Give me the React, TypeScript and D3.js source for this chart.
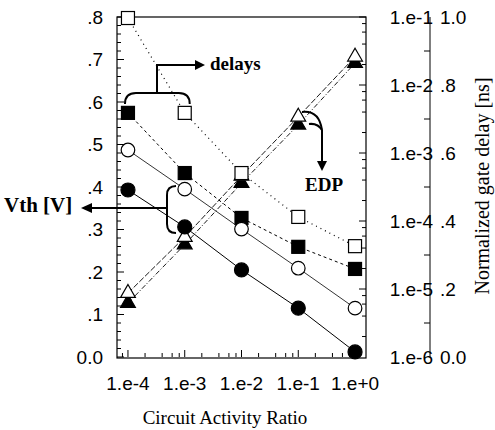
import React, { useEffect, useRef } from 'react';
import * as d3 from 'd3';

// circuit activity ratio (x, log)
const activity = [1e-4, 1e-3, 1e-2, 1e-1, 1];
const activityLabels = ['1.e-4', '1.e-3', '1.e-2', '1.e-1', '1.e+0'];

// Vth [V] -> left axis
const vthOpen = [0.487, 0.395, 0.301, 0.209, 0.115];
const vthFilled = [0.393, 0.306, 0.205, 0.115, 0.012];

// normalized gate delay [ns] -> right linear axis
const delayOpen = [0.997, 0.718, 0.541, 0.412, 0.326];
const delayFilled = [0.718, 0.541, 0.409, 0.324, 0.259];

// EDP -> right log axis
const edpOpen = [8.7e-6, 5.8e-5, 4.6e-4, 3.4e-3, 2.6e-2];
const edpFilled = [6.2e-6, 4.5e-5, 3.6e-4, 2.6e-3, 2.1e-2];

const vthTicks = [0, 0.1, 0.2, 0.3, 0.4, 0.5, 0.6, 0.7, 0.8];
const vthLabels = ['0.0', '.1', '.2', '.3', '.4', '.5', '.6', '.7', '.8'];
const delayTicks = [0, 0.2, 0.4, 0.6, 0.8, 1.0];
const delayLabels = ['0.0', '.2', '.4', '.6', '.8', '1.0'];
const edpTicks = [1e-6, 1e-5, 1e-4, 1e-3, 1e-2, 1e-1];
const edpLabels = ['1.e-6', '1.e-5', '1.e-4', '1.e-3', '1.e-2', '1.e-1'];

const SANS = 'Liberation Sans, Arial, sans-serif';
const SERIF = 'Liberation Serif, Times New Roman, serif';

function draw(el: SVGSVGElement) {
  const svg = d3.select(el);
  svg.selectAll('*').remove();

  const left = 117, right = 366, top = 17, bottom = 357;

  const x = d3.scaleLog().domain([6.41e-5, 1.56]).range([left, right]);
  const yV = d3.scaleLinear().domain([0, 0.8]).range([bottom, top]);
  const yD = d3.scaleLinear().domain([0, 1]).range([bottom, top]);
  const yE = d3.scaleLog().domain([1e-6, 1e-1]).range([bottom, top]);

  // frame
  svg.append('rect')
    .attr('x', left).attr('y', top)
    .attr('width', right - left).attr('height', bottom + 1 - top)
    .attr('fill', 'none').attr('stroke', '#000').attr('stroke-width', 1.2);

  const ticks = svg.append('g').attr('stroke', '#000').attr('stroke-width', 1);

  // left ticks, every .02
  d3.range(0, 41).map(i => i * 0.02).forEach((v, i) => {
    const len = i % 5 === 0 ? 7 : 4;
    ticks.append('line')
      .attr('x1', left).attr('x2', left + len)
      .attr('y1', yV(v)).attr('y2', yV(v));
  });

  // log minor ticks 2,4,6,8 + decades
  const logTicks = (lo: number, hi: number) => {
    const out: { v: number; major: boolean }[] = [];
    for (let e = -7; e <= 1; e++) {
      [2, 4, 6, 8, 10].forEach(m => {
        const v = m * Math.pow(10, e);
        if (v >= lo && v <= hi) out.push({ v, major: m === 10 });
      });
    }
    return out;
  };

  logTicks(x.domain()[0], x.domain()[1]).forEach(t => {
    ticks.append('line')
      .attr('x1', x(t.v)).attr('x2', x(t.v))
      .attr('y1', bottom).attr('y2', bottom - (t.major ? 7 : 4));
  });

  logTicks(1.01e-6, 1e-1).forEach(t => {
    ticks.append('line')
      .attr('x1', right).attr('x2', right - (t.major ? 7 : 4))
      .attr('y1', yE(t.v)).attr('y2', yE(t.v));
  });

  // separate right axis
  const axX = 430;
  ticks.append('line')
    .attr('x1', axX).attr('x2', axX)
    .attr('y1', top).attr('y2', bottom);
  [0.1, 0.3, 0.5, 0.7, 0.9].forEach(v => {
    ticks.append('line')
      .attr('x1', axX).attr('x2', axX - 6)
      .attr('y1', yD(v)).attr('y2', yD(v));
  });

  // tick labels
  const lab = svg.append('g').attr('font-family', SANS).attr('font-size', 19).attr('fill', '#000');

  lab.selectAll('text.yl')
    .data(vthTicks)
    .join('text')
      .attr('class', 'yl')
      .attr('x', left - 14).attr('y', d => yV(d))
      .attr('dy', '0.35em').attr('text-anchor', 'end')
      .text((d, i) => vthLabels[i]);

  lab.selectAll('text.xl')
    .data(activity)
    .join('text')
      .attr('class', 'xl')
      .attr('x', d => x(d)).attr('y', 383)
      .attr('dy', '0.35em').attr('text-anchor', 'middle')
      .text((d, i) => activityLabels[i]);

  lab.selectAll('text.el')
    .data(edpTicks)
    .join('text')
      .attr('class', 'el')
      .attr('x', axX + 3).attr('y', d => yE(d))
      .attr('dy', '0.35em').attr('text-anchor', 'end')
      .text((d, i) => edpLabels[i]);

  lab.selectAll('text.dl')
    .data(delayTicks)
    .join('text')
      .attr('class', 'dl')
      .attr('x', axX + 10).attr('y', d => yD(d))
      .attr('dy', '0.35em').attr('text-anchor', 'start')
      .text((d, i) => delayLabels[i]);

  // titles
  svg.append('text')
    .attr('x', 225).attr('y', 424)
    .attr('text-anchor', 'middle')
    .attr('font-family', SERIF).attr('font-size', 19)
    .text('Circuit Activity Ratio');

  svg.append('text')
    .attr('transform', 'translate(489,186) rotate(-90)')
    .attr('text-anchor', 'middle')
    .attr('font-family', SERIF).attr('font-size', 20)
    .text('Normalized gate delay [ns]');

  // series lines
  const series = [
    { vals: edpFilled, y: yE, dash: '5,2,1,2', w: 0.9 },
    { vals: edpOpen, y: yE, dash: '6,2', w: 0.9 },
    { vals: delayOpen, y: yD, dash: '1,4', w: 1.2 },
    { vals: delayFilled, y: yD, dash: '3,3', w: 1 },
    { vals: vthOpen, y: yV, dash: null, w: 0.8 },
    { vals: vthFilled, y: yV, dash: null, w: 1 },
  ];

  series.forEach(s => {
    const line = d3.line<number>()
      .x((d, i) => x(activity[i]))
      .y(d => s.y(d));
    svg.append('path')
      .attr('d', line(s.vals))
      .attr('fill', 'none')
      .attr('stroke', '#000')
      .attr('stroke-width', s.w)
      .attr('stroke-dasharray', s.dash);
  });

  // markers
  const tri = d3.symbol().type(d3.symbolTriangle).size(95);
  const pts = (vals: number[], y: any) => vals.map((v, i) => [x(activity[i]), y(v)]);

  const g = svg.append('g').attr('stroke', '#000').attr('stroke-width', 1.2);

  g.selectAll('path.tf').data(pts(edpFilled, yE)).join('path')
    .attr('class', 'tf').attr('d', tri)
    .attr('transform', d => `translate(${d[0]},${d[1]})`).attr('fill', '#000');
  g.selectAll('path.to').data(pts(edpOpen, yE)).join('path')
    .attr('class', 'to').attr('d', tri)
    .attr('transform', d => `translate(${d[0]},${d[1]})`).attr('fill', '#fff');

  g.selectAll('rect.sf').data(pts(delayFilled, yD)).join('rect')
    .attr('class', 'sf').attr('x', d => d[0] - 6.5).attr('y', d => d[1] - 6.5)
    .attr('width', 13).attr('height', 13).attr('fill', '#000');
  g.selectAll('rect.so').data(pts(delayOpen, yD)).join('rect')
    .attr('class', 'so').attr('x', d => d[0] - 6.5).attr('y', d => d[1] - 6.5)
    .attr('width', 13).attr('height', 13).attr('fill', '#fff');

  g.selectAll('circle.co').data(pts(vthOpen, yV)).join('circle')
    .attr('class', 'co').attr('cx', d => d[0]).attr('cy', d => d[1])
    .attr('r', 6.8).attr('fill', '#fff');
  g.selectAll('circle.cf').data(pts(vthFilled, yV)).join('circle')
    .attr('class', 'cf').attr('cx', d => d[0]).attr('cy', d => d[1])
    .attr('r', 7).attr('fill', '#000');

  // annotations
  const ann = svg.append('g').attr('stroke', '#000').attr('stroke-width', 2).attr('fill', 'none');

  // delays bracket
  const x1 = x(activity[0]) - 3, x2 = x(activity[1]) + 5, by = 93, mx = 157;
  ann.append('path')
    .attr('d', `M${x1},${by + 11} Q${x1},${by} ${x1 + 11},${by} L${x2 - 11},${by} Q${x2},${by} ${x2},${by + 11}`);
  ann.append('path').attr('d', `M${mx},${by} L${mx},65 L197,65`);
  svg.append('path').attr('d', 'M195,60 L205,65 L195,70 Z').attr('fill', '#000');
  svg.append('text')
    .attr('x', 210).attr('y', 70)
    .attr('font-family', SERIF).attr('font-weight', 'bold').attr('font-size', 19)
    .text('delays');

  // Vth bracket
  ann.append('path').attr('d', 'M176,186 Q167,186 167,195 L167,224 Q167,233 176,233');
  ann.append('path').attr('d', 'M167,208 L90,208');
  svg.append('path').attr('d', 'M92,203 L81,208 L92,213 Z').attr('fill', '#000');
  svg.append('text')
    .attr('x', 4).attr('y', 212)
    .attr('font-family', SERIF).attr('font-weight', 'bold').attr('font-size', 21)
    .text('Vth [V]');

  // EDP bracket
  ann.append('path').attr('d', 'M302,112 Q319,110 322,130');
  ann.append('path').attr('d', 'M309,124 Q318,123 322,130');
  ann.append('path').attr('d', 'M322,130 L322,163');
  svg.append('path').attr('d', 'M317,161 L322,171 L327,161 Z').attr('fill', '#000');
  svg.append('text')
    .attr('x', 324).attr('y', 191).attr('text-anchor', 'middle')
    .attr('font-family', SERIF).attr('font-weight', 'bold').attr('font-size', 19)
    .text('EDP');
}

function Chart() {
  const ref = useRef<SVGSVGElement>(null);

  useEffect(() => {
    if (ref.current) draw(ref.current);
  }, []);

  return (
    <svg
      ref={ref}
      width={495}
      height={430}
      style={{ position: 'absolute', left: 0, top: 0, background: '#fff' }}
    />
  );
}

export default function App() {
  return <Chart />;
}
